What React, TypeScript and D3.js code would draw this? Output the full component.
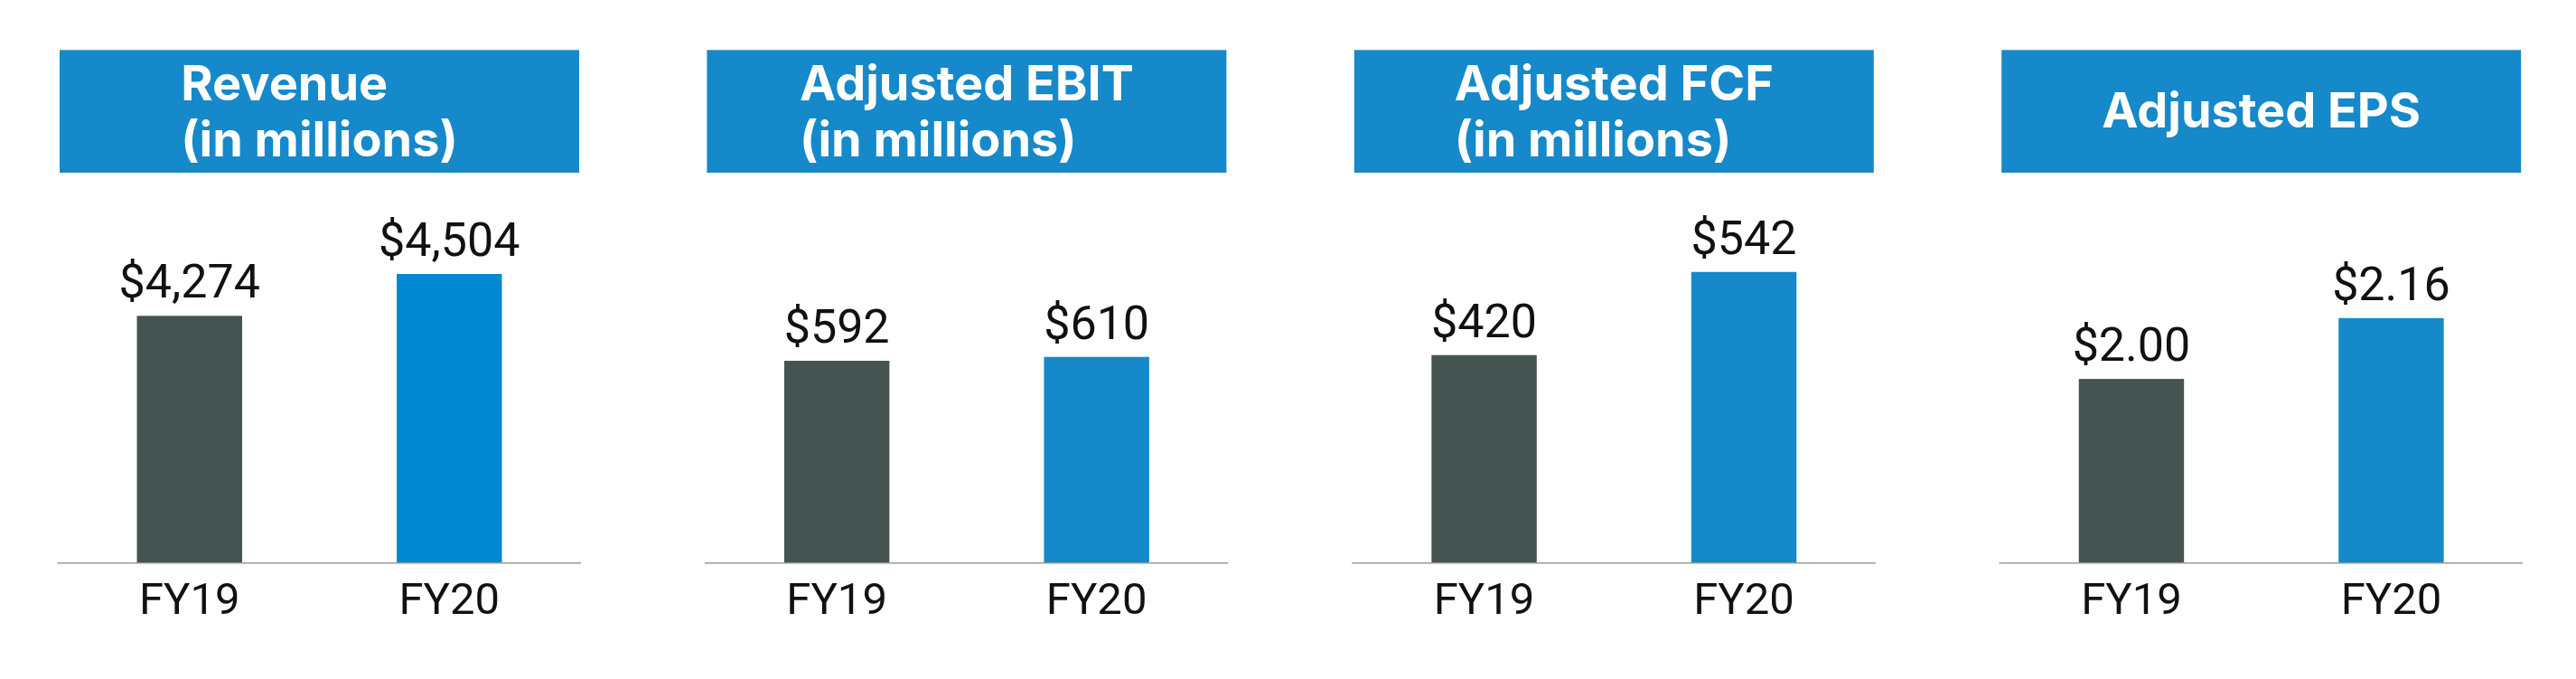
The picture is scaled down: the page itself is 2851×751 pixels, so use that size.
import React, { useLayoutEffect, useRef } from "react";
import * as d3 from "d3";

// ---- data ----
const titles: string[][] = [
  ["Revenue", "(in millions)"],
  ["Adjusted EBIT", "(in millions)"],
  ["Adjusted FCF", "(in millions)"],
  ["Adjusted EPS"],
];
const categories = ["FY19", "FY20"];
const fy19Values = [4274, 592, 420, 2.0];
const fy20Values = [4504, 610, 542, 2.16];
const valueFormats = ["$,.0f", "$,.0f", "$,.0f", "$.2f"];
// each panel uses its own (truncated) value axis, as in the original slide
const yDomains: [number, number][] = [
  [2916, 5062],
  [-344, 1464],
  [115, 688],
  [1.516, 2.543],
];

// ---- layout ----
const W = 2851;
const H = 751;
const PANEL_LEFT = 66;
const PANEL_W = 575;
const PANEL_STEP = 716.4;
const BOX_TOP = 55.3;
const BOX_H = 135.7;
const BASE_Y = 622.7;
const PLOT_H = 432;

const COLOR_BOX = "#1589C9";
const COLOR_FY19 = "#455451";
const COLOR_FY20 = ["#0288D1", "#1589C9", "#1589C9", "#1589C9"];

const panelScale = d3
  .scaleBand<number>()
  .domain(titles.map((_, i) => i))
  .range([PANEL_LEFT, PANEL_LEFT + 3 * PANEL_STEP + PANEL_W])
  .paddingInner((PANEL_STEP - PANEL_W) / PANEL_STEP)
  .paddingOuter(0);

const xScale = d3
  .scaleBand<string>()
  .domain(categories)
  .range([0, PANEL_W])
  .paddingInner(0.595)
  .paddingOuter(0.2975);

function TitleBlock({ lines, x0 }: { lines: string[]; x0: number }) {
  const ref = useRef<SVGGElement>(null);
  useLayoutEffect(() => {
    if (!ref.current) return;
    const bb = ref.current.getBBox();
    const dx = x0 + (PANEL_W - bb.width) / 2 - bb.x;
    d3.select(ref.current).attr("transform", `translate(${dx},0)`);
  }, [lines, x0]);
  const baselines = lines.length === 1 ? [141.3] : [111, 172.7];
  return (
    <g ref={ref}>
      {lines.map((l, i) => (
        <text
          key={i}
          x={0}
          y={baselines[i]}
          fill="#ffffff"
          fontFamily="Inter, Roboto, sans-serif"
          fontWeight={700}
          fontSize={54}
        >
          {l}
        </text>
      ))}
    </g>
  );
}

export default function App() {
  return (
    <svg
      width={W}
      height={H}
      style={{ position: "absolute", left: 0, top: 0, background: "#fff" }}
    >
      <rect x={0} y={0} width={W} height={H} fill="#ffffff" />
      {titles.map((lines, i) => {
        const x0 = panelScale(i) as number;
        const y = d3
          .scaleLinear()
          .domain(yDomains[i])
          .range([BASE_Y, BASE_Y - PLOT_H]);
        const fmt = d3.format(valueFormats[i]);
        const vals = [fy19Values[i], fy20Values[i]];
        return (
          <g key={i}>
            <rect
              x={x0}
              y={BOX_TOP}
              width={PANEL_W}
              height={BOX_H}
              fill={COLOR_BOX}
            />
            <TitleBlock lines={lines} x0={x0} />
            {categories.map((c, j) => {
              const bx = x0 + (xScale(c) as number);
              const top = y(vals[j]);
              const cx = bx + xScale.bandwidth() / 2;
              return (
                <g key={c}>
                  <rect
                    x={bx}
                    y={top}
                    width={xScale.bandwidth()}
                    height={BASE_Y - top}
                    fill={j === 0 ? COLOR_FY19 : COLOR_FY20[i]}
                  />
                  <text
                    x={cx}
                    y={top - 20}
                    textAnchor="middle"
                    fontFamily="Roboto, sans-serif"
                    fontSize={52}
                    fill="#111"
                  >
                    {fmt(vals[j])}
                  </text>
                  <text
                    x={cx}
                    y={679}
                    textAnchor="middle"
                    fontFamily="Roboto, sans-serif"
                    fontSize={49}
                    fill="#111"
                  >
                    {c}
                  </text>
                </g>
              );
            })}
            <line
              x1={x0 - 2.6}
              x2={x0 + PANEL_W + 2}
              y1={BASE_Y}
              y2={BASE_Y}
              stroke="#9a9a9a"
              strokeWidth={1.6}
            />
          </g>
        );
      })}
    </svg>
  );
}
